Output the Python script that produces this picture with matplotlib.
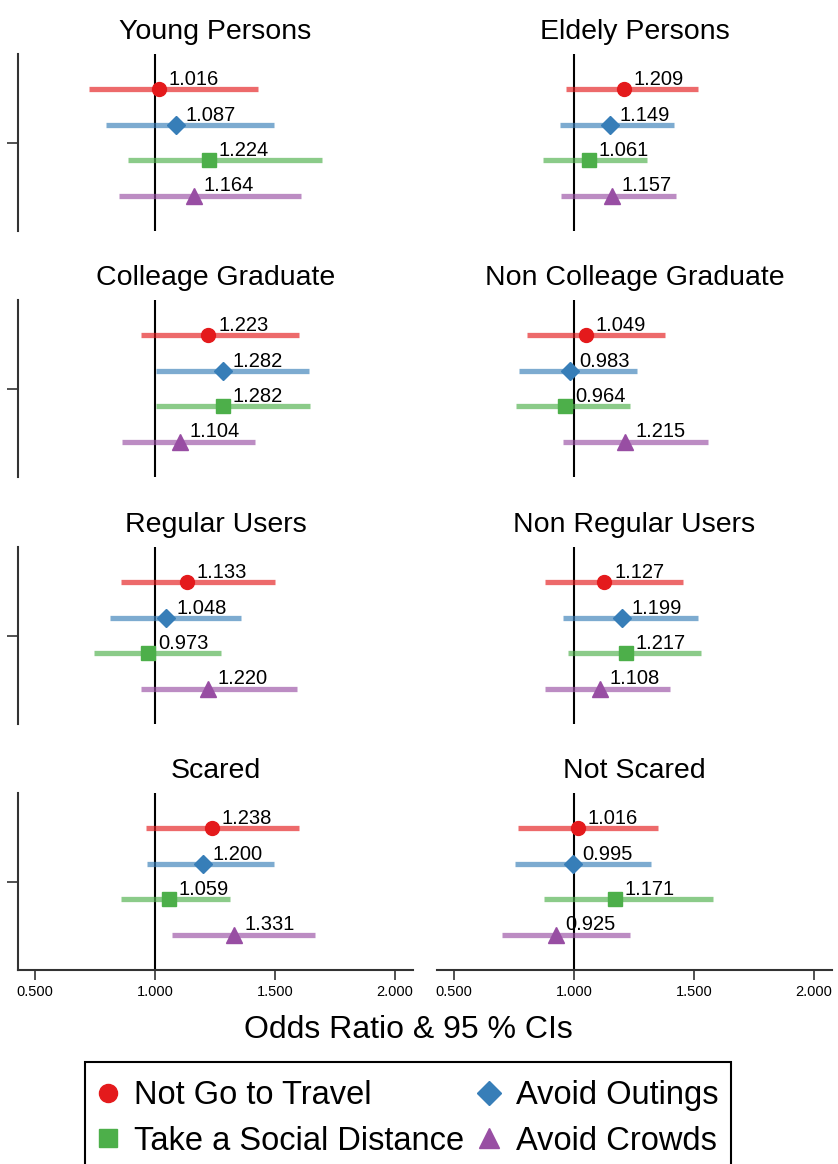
import matplotlib.pyplot as plt
from matplotlib.lines import Line2D
from matplotlib.patches import Rectangle

plt.rcParams['font.family'] = ['Liberation Sans', 'DejaVu Sans']

groups = ["Young Persons", "Eldely Persons",
          "Colleage Graduate", "Non Colleage Graduate",
          "Regular Users", "Non Regular Users",
          "Scared", "Not Scared"]
outcomes = ["Not Go to Travel", "Avoid Outings", "Take a Social Distance", "Avoid Crowds"]

# odds ratios per group, order: travel, outings, distance, crowds
odds = [
    [1.016, 1.087, 1.224, 1.164],
    [1.209, 1.149, 1.061, 1.157],
    [1.223, 1.282, 1.282, 1.104],
    [1.049, 0.983, 0.964, 1.215],
    [1.133, 1.048, 0.973, 1.220],
    [1.127, 1.199, 1.217, 1.108],
    [1.238, 1.200, 1.059, 1.331],
    [1.016, 0.995, 1.171, 0.925],
]
ci_low = [
    [0.725, 0.796, 0.888, 0.850],
    [0.967, 0.942, 0.871, 0.946],
    [0.942, 1.006, 1.006, 0.863],
    [0.805, 0.772, 0.759, 0.954],
    [0.858, 0.813, 0.746, 0.942],
    [0.880, 0.954, 0.975, 0.880],
    [0.963, 0.967, 0.858, 1.071],
    [0.768, 0.755, 0.876, 0.701],
]
ci_high = [
    [1.429, 1.496, 1.696, 1.608],
    [1.519, 1.415, 1.303, 1.427],
    [1.600, 1.642, 1.646, 1.417],
    [1.378, 1.261, 1.232, 1.560],
    [1.500, 1.358, 1.275, 1.592],
    [1.456, 1.519, 1.531, 1.402],
    [1.600, 1.496, 1.313, 1.667],
    [1.349, 1.320, 1.581, 1.232],
]
xticks = [0.5, 1.0, 1.5, 2.0]

colors = ["#E41A1C", "#377EB8", "#4DAF4A", "#984EA3"]
markers = ["o", "D", "s", "^"]
msizes = [10, 9.5, 9.5, 11.5]
ypos = [1.5, 0.5, -0.5, -1.5]

fig = plt.figure(figsize=(8.38, 11.64), dpi=100)

W, H = 838, 1164
col_x = [18, 437]
row_top = [54, 300, 547, 793]
ax_w, ax_h = 395, 177

for i, name in enumerate(groups):
    r, c = divmod(i, 2)
    ax = fig.add_axes([col_x[c] / W, 1 - (row_top[r] + ax_h) / H, ax_w / W, ax_h / H])
    ax.axvline(1.0, color="black", lw=1.5, zorder=1)
    for k in range(4):
        ax.plot([ci_low[i][k], ci_high[i][k]], [ypos[k], ypos[k]], color=colors[k],
                alpha=0.65, lw=3.8, solid_capstyle="butt", zorder=2)
        ax.plot(odds[i][k], ypos[k], marker=markers[k], ms=msizes[k], color=colors[k],
                mec=colors[k], ls="none", zorder=3)
        ax.annotate(f"{odds[i][k]:.3f}", (odds[i][k], ypos[k]), xytext=(7, 3),
                    textcoords="offset points", ha="left", va="baseline", fontsize=14.5)
    ax.set_xlim(0.43, 2.075)
    ax.set_ylim(-2.5, 2.5)
    ax.set_title(name, fontsize=20.5, pad=11)
    for s in ["top", "right"]:
        ax.spines[s].set_visible(False)
    if c == 0:
        ax.spines["left"].set_color("#333333")
        ax.spines["left"].set_linewidth(1.5)
        ax.set_yticks([0])
        ax.set_yticklabels([""])
        ax.tick_params(axis="y", length=8, width=1.2, color="#333333")
    else:
        ax.spines["left"].set_visible(False)
        ax.set_yticks([])
    if r == 3:
        ax.spines["bottom"].set_color("#333333")
        ax.spines["bottom"].set_linewidth(1.5)
        ax.set_xticks(xticks)
        ax.set_xticklabels([f"{v:.3f}" for v in xticks], fontsize=10.5)
        ax.tick_params(axis="x", length=7, width=1.2, color="#333333")
    else:
        ax.spines["bottom"].set_visible(False)
        ax.set_xticks([])

fig.text(0.487, 1 - 1030 / H, "Odds Ratio & 95 % CIs", ha="center", va="center", fontsize=23)

handles = [Line2D([], [], marker=markers[k], color=colors[k], ls="none",
                  ms=msizes[k] + 3) for k in [0, 2, 1, 3]]
labels = [outcomes[k] for k in [0, 2, 1, 3]]
leg = fig.legend(handles, labels, loc="upper center", bbox_to_anchor=(0.487, 1 - 1070 / H),
                 ncol=2, fontsize=23.5, frameon=False,
                 handletextpad=0.52, columnspacing=0.45, borderpad=0.32, labelspacing=0.44,
                 handlelength=0.6, borderaxespad=0)
# legend box runs off the bottom edge like in the original
fig.patches.append(Rectangle((85 / W, 1 - 1175 / H), 646 / W, 113 / H, transform=fig.transFigure,
                             fill=False, ec="black", lw=1.5))

fig.savefig("out.png", dpi=100)
